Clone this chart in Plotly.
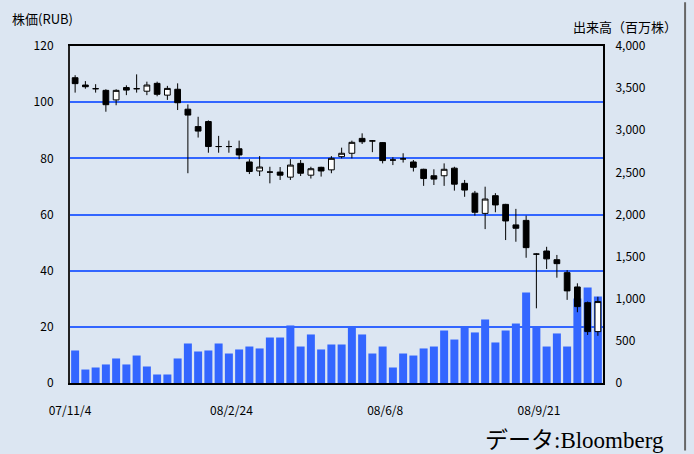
import plotly.graph_objects as go

# weekly index (0 = week of 07/11/4)
weeks = list(range(52))

opens = [108.7, 106.1, 104.8, 104.2, 100.8, 105.2, 104.8, 103.9, 106.7, 102.5,
         104.6, 97.5, 91.3, 93.1, 84.2, 84.2, 83.4, 78.7, 75.5, 75.1,
         75.1, 73.3, 78.2, 74.0, 76.8, 75.9, 80.6, 81.8, 87.1, 86.2,
         85.6, 79.4, 79.8, 78.7, 76.1, 73.8, 73.8, 76.5, 71.1, 67.6,
         60.4, 66.7, 63.6, 56.3, 57.9, 45.9, 47.0, 43.9, 39.3, 34.2,
         28.6, 18.3]
highs = [109.6, 107.5, 106.4, 104.6, 104.6, 106.0, 109.9, 107.3, 107.3, 105.8,
         106.7, 99.2, 94.8, 93.5, 88.0, 86.3, 86.3, 79.7, 80.8, 77.0,
         76.9, 79.7, 79.4, 77.0, 77.0, 80.8, 83.8, 86.3, 88.9, 86.5,
         85.8, 80.4, 81.8, 79.4, 76.3, 76.1, 78.2, 77.0, 72.3, 68.4,
         69.9, 67.6, 63.8, 62.0, 59.6, 46.2, 48.5, 45.6, 40.2, 35.5,
         29.0, 30.7]
lows = [103.4, 104.8, 103.4, 96.6, 98.9, 102.5, 103.4, 102.5, 102.1, 100.8,
        97.2, 74.7, 87.4, 82.0, 82.0, 82.0, 79.7, 74.4, 73.7, 71.1,
        72.3, 72.3, 73.7, 72.8, 73.5, 74.7, 80.0, 80.0, 85.1, 82.2,
        78.2, 77.6, 78.5, 75.3, 70.2, 70.5, 70.2, 68.5, 66.3, 59.6,
        54.8, 60.8, 50.9, 50.3, 44.6, 26.6, 40.6, 37.5, 29.6, 25.2,
        17.1, 16.8]
closes = [106.6, 105.5, 104.8, 99.1, 104.2, 104.3, 104.8, 106.1, 102.8, 104.9,
          99.8, 95.4, 89.7, 84.2, 84.2, 84.2, 81.2, 75.3, 76.9, 75.1,
          74.0, 77.6, 74.7, 76.3, 75.5, 80.0, 81.8, 85.7, 85.9, 86.2,
          79.2, 79.4, 79.8, 76.8, 72.8, 72.6, 76.1, 70.8, 68.7, 60.8,
          65.5, 63.4, 57.7, 55.1, 48.2, 45.9, 44.2, 42.5, 32.8, 27.2,
          18.3, 29.0]
volumes = [386, 160, 184, 220, 291, 220, 326, 196, 101, 101,
           291, 469, 374, 386, 469, 350, 398, 433, 410, 540,
           540, 683, 433, 576, 398, 457, 457, 659, 576, 350,
           433, 184, 350, 326, 410, 433, 623, 516, 659, 600,
           754, 481, 623, 706, 1074, 659, 433, 588, 433, 1003,
           1134, 1027]

tick_weeks = [0.25, 16, 31, 46]
tick_labels = ["07/11/4", "08/2/24", "08/6/8", "08/9/21"]
price_ticks = [0, 20, 40, 60, 80, 100, 120]
vol_ticks = [0, 500, 1000, 1500, 2000, 2500, 3000, 3500, 4000]

BG = "#dce6f2"
BLUE = "#3366ff"
FONT = "Noto Sans CJK JP"

fig = go.Figure()
fig.add_trace(go.Bar(x=weeks, y=volumes, marker=dict(color=BLUE, line=dict(width=0)),
                     yaxis="y", hoverinfo="skip", showlegend=False))
fig.add_trace(go.Candlestick(
    x=weeks, open=opens, high=highs, low=lows, close=closes, yaxis="y2",
    increasing=dict(fillcolor="white", line=dict(color="black", width=1)),
    decreasing=dict(fillcolor="black", line=dict(color="black", width=1)),
    whiskerwidth=0, showlegend=False))

fig.update_layout(
    width=694, height=454,
    margin=dict(l=70, r=91, t=46, b=71),
    paper_bgcolor=BG, plot_bgcolor=BG,
    font=dict(family=FONT, size=12, color="black"),
    bargap=0.22, boxgap=0.2,
    xaxis=dict(range=[-0.5, 51.5], tickmode="array",
               tickvals=[w - 0.75 for w in tick_weeks], ticktext=tick_labels,
               showgrid=False, zeroline=False, showline=True, linecolor="black",
               linewidth=2, mirror=True, ticks="", ticklabelstandoff=16,
               automargin=False, rangeslider=dict(visible=False)),
    yaxis=dict(side="right", range=[0, 4000], tickmode="array", tickvals=vol_ticks,
               tickformat=",", showgrid=False, zeroline=False, showline=True,
               linecolor="black", linewidth=2, ticks="", ticklabelstandoff=8,
               automargin=False),
    yaxis2=dict(side="left", overlaying="y", range=[0, 120], tickmode="array",
                tickvals=price_ticks, showgrid=True, gridcolor=BLUE, gridwidth=1.5,
                zeroline=False, showline=True, linecolor="#222222", linewidth=2,
                ticks="", ticklabelstandoff=12, automargin=False),
    annotations=[
        dict(text="株価(RUB)", xref="paper", yref="paper", x=-0.113, y=1.083,
             xanchor="left", yanchor="middle", showarrow=False, font=dict(size=13)),
        dict(text="出来高（百万株）", xref="paper", yref="paper", x=1.142, y=1.058,
             xanchor="right", yanchor="middle", showarrow=False, font=dict(size=13)),
        dict(text="データ:Bloomberg", xref="paper", yref="paper", x=1.118, y=-0.17,
             xanchor="right", yanchor="middle", showarrow=False,
             font=dict(size=23, family="Liberation Serif, Noto Sans CJK JP")),
    ],
    shapes=[dict(type="line", layer="above", xref="paper", yref="paper",
                 x0=1.154, x1=1.154, y0=-0.2, y1=1.13,
                 line=dict(color="#666666", width=2))],
)

fig.write_html("out.html", config={"displayModeBar": False},
               post_script="document.body.style.margin='0';")
